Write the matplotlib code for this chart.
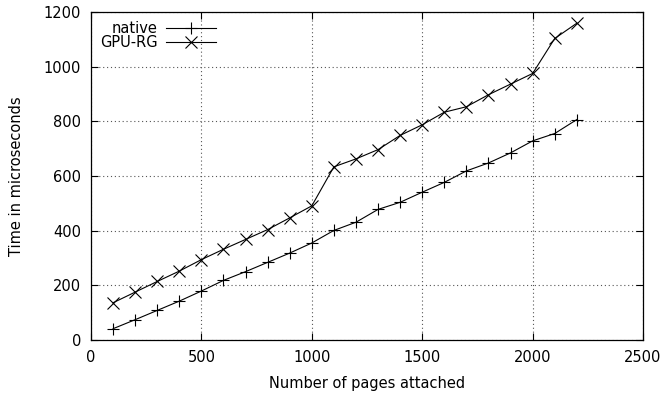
import matplotlib
matplotlib.use('Agg')
import matplotlib.pyplot as plt

plt.rcParams['font.family'] = 'DejaVu Sans'
plt.rcParams['font.size'] = 10.5

# pages attached vs. time (microseconds)
pages = [100, 200, 300, 400, 500, 600, 700, 800, 900, 1000, 1100,
         1200, 1300, 1400, 1500, 1600, 1700, 1800, 1900, 2000, 2100, 2200]
native = [41, 74, 108, 142, 179, 218, 250, 284, 318, 355, 401,
          431, 478, 504, 541, 577, 619, 648, 685, 729, 756, 807]
gpu_rg = [136, 175, 214, 252, 294, 332, 368, 404, 447, 491, 634,
          663, 697, 749, 788, 834, 854, 898, 937, 976, 1104, 1160]

fig = plt.figure(figsize=(6.65, 3.95), dpi=100)
ax = fig.add_axes([0.1368, 0.1395, 0.8302, 0.8294])

ax.plot(pages, native, 'k-', marker='+', markersize=8.5, markeredgewidth=0.8,
        linewidth=0.8, label='native')
ax.plot(pages, gpu_rg, 'k-', marker='x', markersize=8.5, markeredgewidth=0.8,
        linewidth=0.8, label='GPU-RG')

ax.set_xlim(0, 2500)
ax.set_ylim(0, 1200)
ax.set_xticks(range(0, 2501, 500))
ax.set_yticks(range(0, 1201, 200))
ax.tick_params(direction='in', top=True, right=True, length=5, width=0.8)
ax.tick_params(axis='x', pad=7.5)
ax.tick_params(axis='y', pad=7)
ax.grid(True, linestyle=(0, (1, 2.5)), color='#555555', linewidth=0.8)
for s in ax.spines.values():
    s.set_linewidth(0.9)

ax.set_xlabel('Number of pages attached', labelpad=8)
ax.set_ylabel('Time in microseconds', labelpad=14)

ax.legend(loc='upper left', frameon=False, markerfirst=False,
          handlelength=3.4, borderaxespad=0.3, labelspacing=-0.05,
          handletextpad=0.6, borderpad=0.3, bbox_to_anchor=(0.0, 1.0))
leg = ax.get_legend()
for t in leg.get_texts():
    t.set_ha('right')
leg._legend_box.align = 'right'

fig.savefig('out.png', dpi=100)
